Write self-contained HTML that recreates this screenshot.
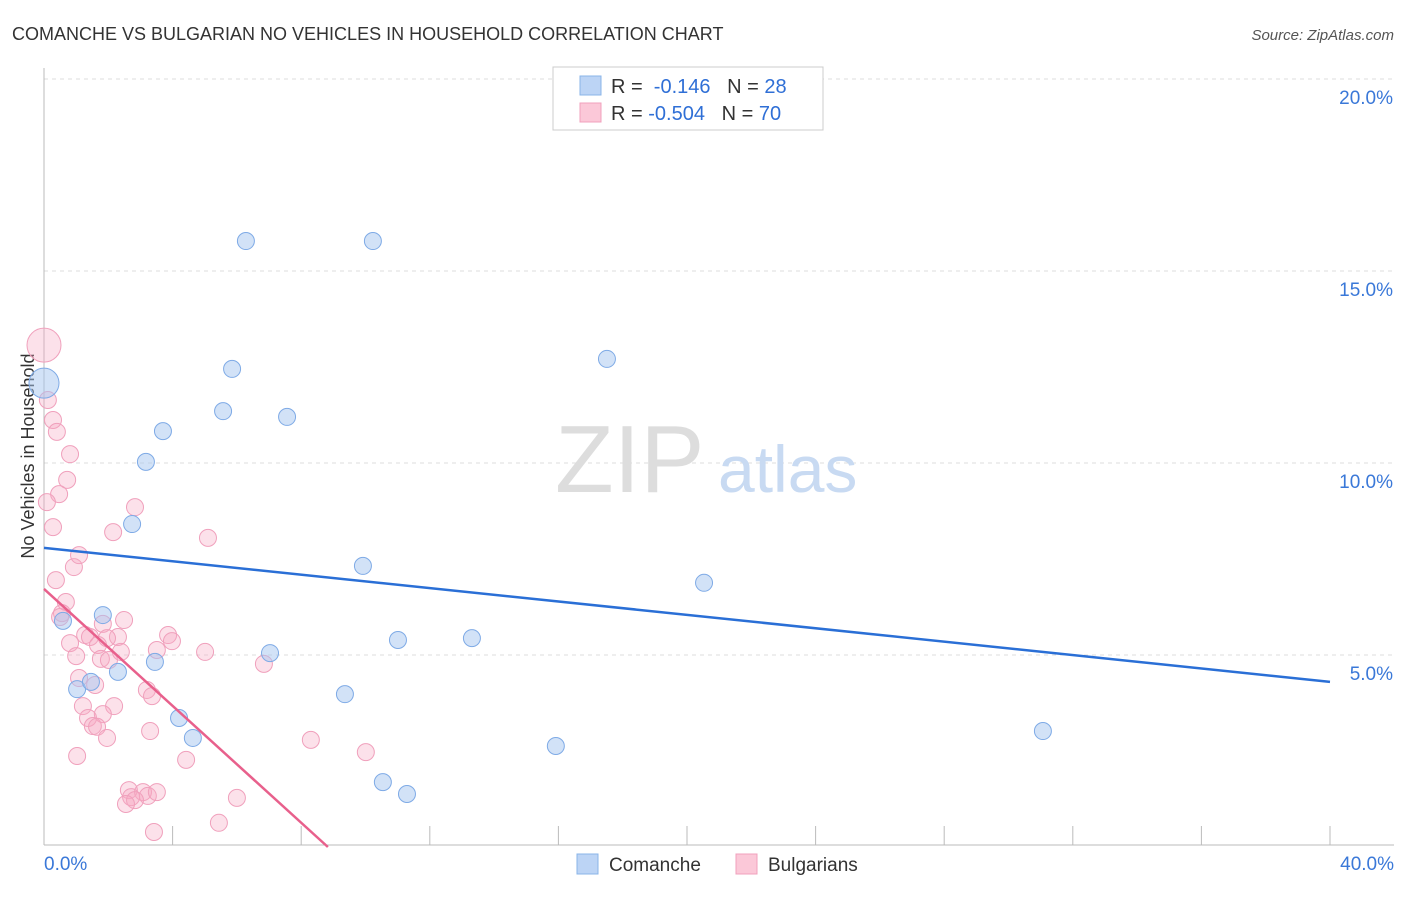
<!DOCTYPE html>
<html><head><meta charset="utf-8"><style>
body{margin:0;background:#fff;font-family:"Liberation Sans",sans-serif;}
svg text{font-family:"Liberation Sans",sans-serif;}
</style></head><body>
<svg id="chart" width="1406" height="892">
<text x="12" y="40" font-size="18" fill="#333">COMANCHE VS BULGARIAN NO VEHICLES IN HOUSEHOLD CORRELATION CHART</text>
<text x="1394" y="40" font-size="15" fill="#555" font-style="italic" text-anchor="end">Source: ZipAtlas.com</text>
<text x="34" y="456" font-size="18" fill="#333" text-anchor="middle" transform="rotate(-90 34 456)">No Vehicles in Household</text>
<g id="grid"></g>
<g id="axes"></g>
<text x="555" y="492" font-size="96" fill="#ddd" font-family="Liberation Serif">ZIP</text>
<text x="718" y="492" font-size="66" fill="#c8daf2">atlas</text>
<g id="marks"></g>
<g>
<rect x="553" y="67" width="270" height="63" fill="#fff" stroke="#ccc"/>
<rect x="580" y="76" width="21" height="19" fill="#bcd4f5" stroke="#8ab4e8"/>
<rect x="580" y="103" width="21" height="19" fill="#fbc8d8" stroke="#f0a0bc"/>
<text x="611" y="93" font-size="20" fill="#333">R = <tspan fill="#2f6fd6">&#160;-0.146</tspan>&#160;&#160;&#160;N = <tspan fill="#2f6fd6">28</tspan></text>
<text x="611" y="120" font-size="20" fill="#333">R = <tspan fill="#2f6fd6">-0.504</tspan>&#160;&#160;&#160;N = <tspan fill="#2f6fd6">70</tspan></text>
</g>
<g>
<rect x="577" y="854" width="21" height="20" fill="#bcd4f5" stroke="#8ab4e8"/>
<text x="609" y="871" font-size="19" fill="#333">Comanche</text>
<rect x="736" y="854" width="21" height="20" fill="#fbc8d8" stroke="#f0a0bc"/>
<text x="768" y="871" font-size="19" fill="#333">Bulgarians</text>
</g>
</svg>
<script>
const blueX=[0,6.28,10.23,17.51,5.85,5.57,7.56,3.70,3.17,2.74,9.92,20.53,1.83,0.59,11.01,13.31,7.03,3.45,2.30,1.03,1.46,9.36,4.20,4.63,15.92,31.07,10.54,11.29];
const blueY=[12.08,15.78,15.78,12.71,12.45,11.35,11.2,10.83,10.03,8.41,7.32,6.88,6.04,5.89,5.39,5.44,5.05,4.82,4.56,4.11,4.30,3.98,3.36,2.84,2.63,3.02,1.69,1.38];
const pinkX=[0,0.12,0.28,0.40,0.81,0.72,0.47,0.09,0.28,2.83,2.15,5.10,0.93,0.37,0.68,0.56,2.49,1.83,0.50,1.28,1.43,2.30,0.81,1.68,1.96,3.86,3.98,3.51,5.01,1.00,1.77,2.02,2.39,6.84,1.09,1.59,3.20,3.36,1.21,2.18,1.37,1.83,1.52,1.65,1.96,3.30,8.30,10.01,1.03,4.42,2.64,3.08,2.71,3.23,2.83,3.51,2.55,6.00,3.42,5.44,1.09];
const pinkY=[13.07,11.64,11.12,10.81,10.23,9.56,9.19,8.98,8.33,8.85,8.20,8.05,7.29,6.95,6.38,6.09,5.91,5.81,5.99,5.52,5.47,5.47,5.31,5.26,5.44,5.52,5.36,5.13,5.08,4.97,4.90,4.87,5.08,4.77,4.40,4.22,4.09,3.93,3.67,3.67,3.36,3.46,3.15,3.13,2.84,3.02,2.79,2.47,2.37,2.27,1.48,1.43,1.30,1.33,1.22,1.43,1.12,1.28,0.39,0.63,7.60];
const blueTrend=[7.79,4.30];
const pinkTrend=[6.72,0,8.83];
const yTicks=[5,10,15,20];
const yTickLabels=["5.0%","10.0%","15.0%","20.0%"];
const xTicks=[0,4,8,12,16,20,24,28,32,36,40];
const NS="http://www.w3.org/2000/svg";
const X=v=>44+v/40*1286;
const Y=v=>847-v*38.4;
function mk(tag,attrs,parent){const e=document.createElementNS(NS,tag);for(const k in attrs)e.setAttribute(k,attrs[k]);document.getElementById(parent).appendChild(e);return e;}
yTicks.forEach((t,i)=>{
 const l=mk('line',{x1:44,x2:1394,y1:Y(t),y2:Y(t),stroke:'#ddd','stroke-dasharray':'4,4'},'grid');
 
 
 const tx=mk('text',{x:1393,y:Y(t)+25,'font-size':19,fill:'#3a78d8','text-anchor':'end'},'grid');
 tx.textContent=yTickLabels[i];
 
 
});
mk('line',{x1:44,x2:1394,y1:845,y2:845,stroke:'#bbb'},'axes');
mk('line',{x1:44,x2:44,y1:68,y2:845,stroke:'#bbb'},'axes');
xTicks.forEach(t=>{
 const l=mk('line',{x1:X(t),x2:X(t),y1:826,y2:845,stroke:'#bbb'},'axes');
 
 
});
const x0=mk('text',{x:44,y:870,'font-size':19,fill:'#3a78d8'},'axes');x0.textContent="0.0%";


const x1=mk('text',{x:1394,y:870,'font-size':19,fill:'#3a78d8','text-anchor':'end'},'axes');x1.textContent="40.0%";


pinkX.forEach((v,i)=>{
 const c=mk('circle',{cx:X(v),cy:Y(pinkY[i]),r:i===0?17:8.5,fill:'rgba(246,170,196,0.35)',stroke:'#f0a0bc','stroke-width':1},'marks');
 
 
});
blueX.forEach((v,i)=>{
 const c=mk('circle',{cx:X(v),cy:Y(blueY[i]),r:i===0?15:8.5,fill:'rgba(165,198,240,0.5)',stroke:'#7eaae6','stroke-width':1},'marks');
 
 
});
const bl=mk('line',{x1:X(0),y1:Y(blueTrend[0]),x2:X(40),y2:Y(blueTrend[1]),stroke:'#2a6fd6','stroke-width':2.5},'marks');


const pl=mk('line',{x1:X(0),y1:Y(pinkTrend[0]),x2:X(pinkTrend[2]),y2:Y(pinkTrend[1]),stroke:'#e8608c','stroke-width':2.5},'marks');


</script>
</body></html>
